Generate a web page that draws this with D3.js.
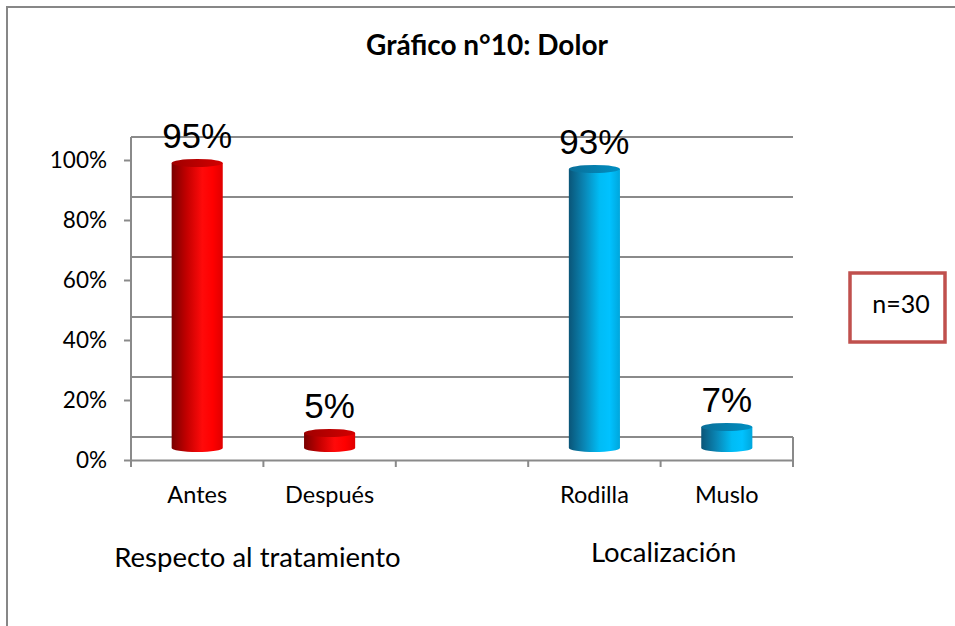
<!DOCTYPE html>
<html>
<head>
<meta charset="utf-8">
<script src="https://cdn.jsdelivr.net/npm/d3@7"></script>
<style>
  body { margin: 0; background: #fff; }
  svg { display: block; }
</style>
</head>
<body>
<svg id="chart" width="955" height="626"></svg>
<script>
const categories = ['Antes', 'Después', '', 'Rodilla', 'Muslo']
const values = [0.95, 0.05, null, 0.93, 0.07]
const valueLabels = ['95%', '5%', '', '93%', '7%']
const barColor = ['red', 'red', null, 'blue', 'blue']
const groups = [
  { label: 'Respecto al tratamiento', cats: ['Antes', 'Después'] },
  { label: 'Localización', cats: ['Rodilla', 'Muslo'] }
]
const yTicks = [0, 0.2, 0.4, 0.6, 0.8, 1]
const title = 'Gráfico n°10: Dolor'
const note = 'n=30'

const svg = d3.select('#chart')
const width = +svg.attr('width')
const height = +svg.attr('height')

const calibri = 'Lato, "Open Sans", sans-serif'
const arial = '"Liberation Sans", Arial, sans-serif'
const gridColor = '#8a8a8a'

// outer frame of the chart area
svg.append('rect')
  .attr('x', 7).attr('y', 7)
  .attr('width', width + 20).attr('height', height + 20)
  .attr('fill', '#fff')
  .attr('stroke', '#878787')
  .attr('stroke-width', 2)

// 3d-ish layout: front plane, bars in the middle, back wall behind
const depth = 23
const barDepth = 12

const x = d3.scaleBand()
  .domain(categories)
  .range([131, 793])
  .padding(0)

const y = d3.scaleLinear()
  .domain([0, 1])
  .range([460, 160])

const defs = svg.append('defs')
const grads = {
  red: { side: ['#7a0000', '#c40000', '#ff0a0a', '#ff0000', '#e00000'], top: ['#a00000', '#d20000'] },
  blue: { side: ['#0a5578', '#0a86b5', '#00bcf5', '#00c2ff', '#00a6dc'], top: ['#0a6f99', '#008fc2'] }
}
Object.keys(grads).forEach(k => {
  const side = defs.append('linearGradient').attr('id', 'side-' + k)
    .attr('x1', 0).attr('x2', 1).attr('y1', 0).attr('y2', 0)
  const stops = [0, 0.3, 0.6, 0.8, 1]
  grads[k].side.forEach((c, i) => {
    side.append('stop').attr('offset', stops[i]).attr('stop-color', c)
  })
  const top = defs.append('linearGradient').attr('id', 'top-' + k)
    .attr('x1', 0).attr('x2', 1).attr('y1', 0).attr('y2', 0)
  top.append('stop').attr('offset', 0).attr('stop-color', grads[k].top[0])
  top.append('stop').attr('offset', 1).attr('stop-color', grads[k].top[1])
})

// back wall gridlines
svg.append('g')
  .selectAll('line')
  .data(yTicks)
  .enter()
  .append('line')
  .attr('x1', x.range()[0])
  .attr('x2', x.range()[1])
  .attr('y1', d => y(d) - depth)
  .attr('y2', d => y(d) - depth)
  .attr('stroke', gridColor)
  .attr('stroke-width', 2)

// left edge + right edge of floor
svg.append('line')
  .attr('x1', x.range()[0]).attr('x2', x.range()[0])
  .attr('y1', y(1) - depth).attr('y2', y(0))
  .attr('stroke', gridColor).attr('stroke-width', 2)
svg.append('line')
  .attr('x1', x.range()[1]).attr('x2', x.range()[1])
  .attr('y1', y(0) - depth).attr('y2', y(0))
  .attr('stroke', gridColor).attr('stroke-width', 2)

// y axis
const yAxis = svg.append('g')
  .attr('transform', 'translate(' + x.range()[0] + ',0)')
  .call(d3.axisLeft(y).tickValues(yTicks).tickFormat(d3.format('.0%')).tickSize(7).tickPadding(17))
yAxis.select('.domain').remove()
yAxis.selectAll('line').attr('stroke', gridColor).attr('stroke-width', 2)
yAxis.selectAll('text')
  .attr('font-family', calibri)
  .attr('font-size', 22.5)
  .attr('fill', '#000')

// x axis: floor front edge, ticks between categories
const xAxis = svg.append('g')
  .attr('transform', 'translate(0,' + y(0) + ')')
  .call(d3.axisBottom(x).tickSize(0).tickPadding(26))
xAxis.select('.domain').attr('stroke', gridColor).attr('stroke-width', 2)
xAxis.selectAll('text')
  .attr('font-family', calibri)
  .attr('font-size', 23.5)
  .attr('fill', '#000')

const bounds = categories.map(c => x(c)).concat([x.range()[1]])
xAxis.selectAll('.sep')
  .data(bounds)
  .enter()
  .append('line')
  .attr('class', 'sep')
  .attr('x1', d => d).attr('x2', d => d)
  .attr('y1', 0).attr('y2', 7)
  .attr('stroke', gridColor).attr('stroke-width', 2)

// cylinders
const rx = x.bandwidth() * 0.193
const ry = 4
const bars = categories
  .map((c, i) => ({ cat: c, value: values[i], label: valueLabels[i], color: barColor[i] }))
  .filter(d => d.value != null)

const bar = svg.append('g')
  .selectAll('.bar')
  .data(bars)
  .enter()
  .append('g')
  .attr('class', 'bar')

bar.append('path')
  .attr('d', d => {
    const cx = x(d.cat) + x.bandwidth() / 2
    const y0 = y(0) - barDepth
    const y1 = y(d.value) - barDepth
    return 'M' + (cx - rx) + ',' + y1 +
      'L' + (cx - rx) + ',' + y0 +
      'A' + rx + ',' + ry + ' 0 0 0 ' + (cx + rx) + ',' + y0 +
      'L' + (cx + rx) + ',' + y1 + 'Z'
  })
  .attr('fill', d => 'url(#side-' + d.color + ')')

bar.append('ellipse')
  .attr('cx', d => x(d.cat) + x.bandwidth() / 2)
  .attr('cy', d => y(d.value) - barDepth)
  .attr('rx', rx)
  .attr('ry', ry)
  .attr('fill', d => 'url(#top-' + d.color + ')')

bar.append('text')
  .attr('x', d => x(d.cat) + x.bandwidth() / 2)
  .attr('y', d => y(d.value) - barDepth - 15)
  .attr('text-anchor', 'middle')
  .attr('font-family', arial)
  .attr('font-size', 35)
  .attr('fill', '#000')
  .text(d => d.label)

// group labels under the categories (text boxes sit a bit off-centre)
const groupShift = [-6, 3]
const groupBase = [567, 562]
svg.append('g')
  .selectAll('text')
  .data(groups)
  .enter()
  .append('text')
  .attr('x', (d, i) => d3.mean(d.cats, c => x(c) + x.bandwidth() / 2) + groupShift[i])
  .attr('y', (d, i) => groupBase[i])
  .attr('text-anchor', 'middle')
  .attr('font-family', calibri)
  .attr('font-size', 27.5)
  .attr('fill', '#000')
  .text(d => d.label)

// title
svg.append('text')
  .attr('x', 487)
  .attr('y', 55)
  .attr('text-anchor', 'middle')
  .attr('font-family', calibri)
  .attr('font-weight', 'bold')
  .attr('font-size', 28)
  .attr('fill', '#000')
  .text(title)

// n box
svg.append('rect')
  .attr('x', 850).attr('y', 273)
  .attr('width', 95).attr('height', 69)
  .attr('fill', '#fff')
  .attr('stroke', '#c0504d')
  .attr('stroke-width', 3.5)
svg.append('text')
  .attr('x', 901).attr('y', 313)
  .attr('text-anchor', 'middle')
  .attr('font-family', calibri)
  .attr('font-size', 25)
  .attr('fill', '#000')
  .text(note)
</script>
</body>
</html>
